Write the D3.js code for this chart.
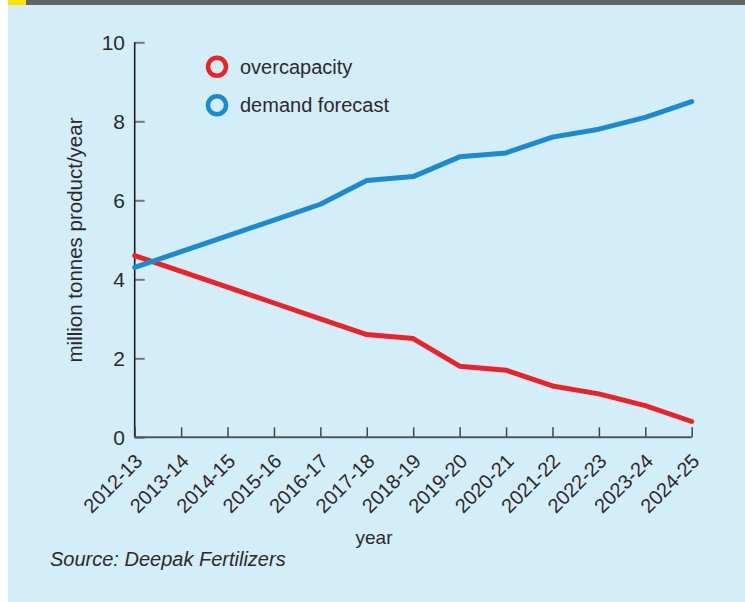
<!DOCTYPE html>
<html>
<head>
<meta charset="utf-8">
<script src="https://cdn.jsdelivr.net/npm/d3@7"></script>
<style>
  html, body { margin: 0; padding: 0; background: #ffffff; }
  svg { display: block; }
  text { font-family: "Liberation Sans", Arial, sans-serif; fill: #2b2b2b; }
</style>
</head>
<body>
<svg id="chart" width="745" height="602"></svg>
<script>
// Fiscal years on the horizontal axis
const years = ["2012-13", "2013-14", "2014-15", "2015-16", "2016-17", "2017-18",
  "2018-19", "2019-20", "2020-21", "2021-22", "2022-23", "2023-24", "2024-25"];

// million tonnes product per year
const overcapacity = [4.6, 4.2, 3.8, 3.4, 3.0, 2.6, 2.5, 1.8, 1.7, 1.3, 1.1, 0.8, 0.4];
const demandForecast = [4.3, 4.7, 5.1, 5.5, 5.9, 6.5, 6.6, 7.1, 7.2, 7.6, 7.8, 8.1, 8.5];

const yTicks = [0, 2, 4, 6, 8, 10];

const seriesNames = ["overcapacity", "demand forecast"];
const seriesColors = ["#ea2329", "#1a8bd0"];

const svg = d3.select("#chart");

// panel background and header strip
svg.append("rect").attr("x", 8).attr("y", 0).attr("width", 737).attr("height", 602).attr("fill", "#d3edf9");
svg.append("rect").attr("x", 8).attr("y", 0).attr("width", 737).attr("height", 5).attr("fill", "#646467");
svg.append("rect").attr("x", 8).attr("y", 0).attr("width", 18).attr("height", 5).attr("fill", "#ffe000");

const x = d3.scalePoint().domain(years).range([134.7, 691.7]);
const y = d3.scaleLinear().domain([0, 10]).range([437.3, 42.3]);

// y axis: ticks point inward
const yAxis = svg.append("g").attr("transform", "translate(134.7,0)")
  .call(d3.axisRight(y).tickValues(yTicks).tickSize(10).tickFormat(() => ""));
yAxis.select(".domain").remove();
yAxis.selectAll(".tick line").attr("stroke", "#777").attr("stroke-width", 2);
svg.append("line").attr("x1", 134.7).attr("x2", 134.7).attr("y1", y(10)).attr("y2", y(0))
  .attr("stroke", "#1e1e1e").attr("stroke-width", 1.6);

svg.append("g").selectAll("text").data(yTicks).join("text")
  .attr("x", 125).attr("y", d => y(d)).attr("dy", "0.36em")
  .attr("text-anchor", "end").attr("font-size", 21)
  .text(d => d);

// x axis: ticks point upward
const xAxis = svg.append("g").attr("transform", "translate(0,437.3)")
  .call(d3.axisTop(x).tickSize(10).tickFormat(() => ""));
xAxis.select(".domain").remove();
xAxis.selectAll(".tick line").attr("stroke", "#444").attr("stroke-width", 1.5);
svg.append("line").attr("x1", x.range()[0]).attr("x2", x.range()[1]).attr("y1", y(0)).attr("y2", y(0))
  .attr("stroke", "#555").attr("stroke-width", 2);

svg.append("g").selectAll("text").data(years).join("text")
  .attr("transform", d => `translate(${x(d) + 9},${y(0) + 25}) rotate(-45)`)
  .attr("text-anchor", "end").attr("font-size", 20)
  .text(d => d);

// axis titles
svg.append("text").attr("transform", "translate(82,240) rotate(-90)")
  .attr("text-anchor", "middle").attr("font-size", 20.5)
  .text("million tonnes product/year");
svg.append("text").attr("x", 374).attr("y", 544).attr("text-anchor", "middle")
  .attr("font-size", 19).text("year");

svg.append("text").attr("x", 50).attr("y", 566).attr("font-size", 20)
  .attr("font-style", "italic").text("Source: Deepak Fertilizers");

// series lines
const line = d3.line().x((d, i) => x(years[i])).y(d => y(d));
[overcapacity, demandForecast].forEach((vals, k) => {
  svg.append("path").datum(vals).attr("d", line)
    .attr("fill", "none").attr("stroke", seriesColors[k])
    .attr("stroke-width", 5).attr("stroke-linejoin", "round").attr("stroke-linecap", "round");
});

// legend
const legend = svg.append("g").selectAll("g").data(seriesNames).join("g")
  .attr("transform", (d, i) => `translate(217,${66.7 + i * 38.5})`);
legend.append("circle").attr("r", 9).attr("fill", "none")
  .attr("stroke", (d, i) => seriesColors[i]).attr("stroke-width", 4.5);
legend.append("text").attr("x", 23).attr("dy", "0.35em").attr("font-size", 20).text(d => d);
</script>
</body>
</html>
